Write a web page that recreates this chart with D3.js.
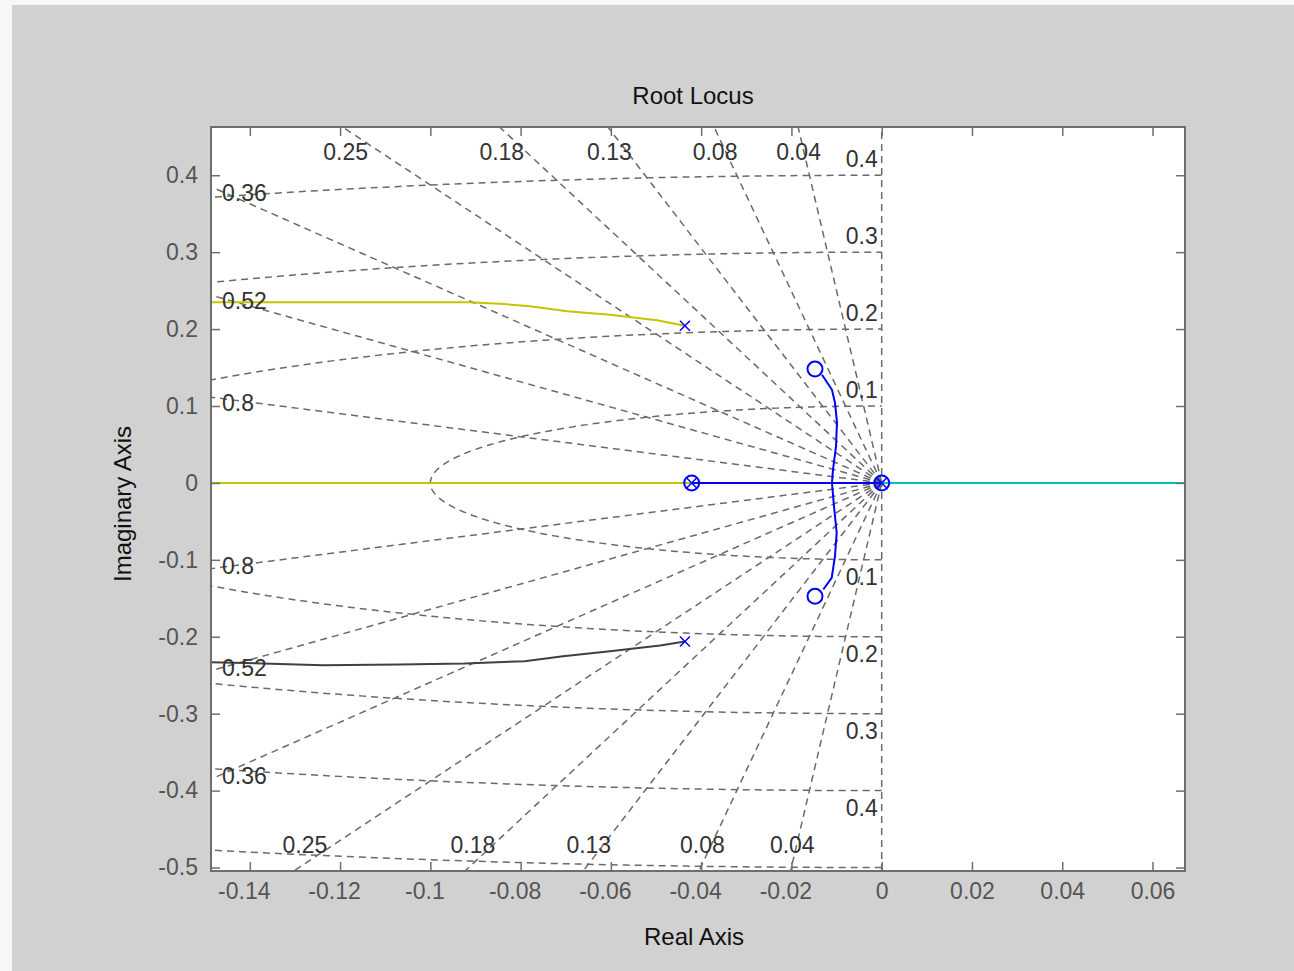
<!DOCTYPE html>
<html>
<head>
<meta charset="utf-8">
<script src="https://cdn.jsdelivr.net/npm/d3@7"></script>
<style>
  body { margin: 0; background: #f7f7f7; }
  text { font-family: "Liberation Sans", Arial, sans-serif; }
</style>
</head>
<body>
<div class="chart"></div>
<script>
// ---- values ----
var xTicks = [-0.14, -0.12, -0.1, -0.08, -0.06, -0.04, -0.02, 0, 0.02, 0.04, 0.06];
var yTicks = [-0.5, -0.4, -0.3, -0.2, -0.1, 0, 0.1, 0.2, 0.3, 0.4];
var xLimits = [-0.1486, 0.0672];
var yLimits = [-0.5045, 0.4627];

// sgrid values
var zetaVals = [0.04, 0.08, 0.13, 0.18, 0.25, 0.36, 0.52, 0.8];
var wnVals = [0.1, 0.2, 0.3, 0.4, 0.5];

// locus branches (real, imag)
var yellowRe = [-0.1486, -0.0917, -0.0846, -0.0779, -0.0697, -0.0602, -0.0498, -0.0436];
var yellowIm = [0.2348, 0.2348, 0.2329, 0.2296, 0.2231, 0.2186, 0.2114, 0.2043];
var darkRe = [-0.1486, -0.1238, -0.1068, -0.0924, -0.0791, -0.0706, -0.0602, -0.0491, -0.0436];
var darkIm = [-0.2330, -0.2369, -0.2360, -0.2347, -0.2317, -0.2252, -0.2187, -0.2113, -0.2061];
var blueUpRe = [-0.01323, -0.01102, -0.01035, -0.00991, -0.01013, -0.01079, -0.01102];
var blueUpIm = [0.1406, 0.1212, 0.1043, 0.0783, 0.0471, 0.0173, 0];
var blueLoRe = [-0.01294, -0.01108, -0.01035, -0.00997, -0.01057, -0.01102];
var blueLoIm = [-0.1386, -0.1234, -0.0953, -0.0649, -0.0304, 0];
// real axis segments
var yellowAxis = [-0.1486, -0.0421];
var blueAxis = [-0.0421, 0];
var cyanAxis = [0, 0.0672];

// poles and zeros
var polesRe = [-0.0436, -0.0436, -0.0421, 0];
var polesIm = [0.2043, -0.2061, 0, 0];
var zerosRe = [-0.01478, -0.01478, -0.0421, 0];
var zerosIm = [0.1481, -0.1473, 0, 0];

// ---- layout ----
var W = 1294, H = 971;
var box = { left: 211, right: 1185, top: 127, bottom: 871 };

var svg = d3.select('.chart')
  .append('svg')
  .attr('width', W)
  .attr('height', H);

// figure background
svg.append('rect')
  .attr('x', 12).attr('y', 5)
  .attr('width', W - 12).attr('height', H - 5)
  .style('fill', '#d1d1d1');

svg.append('rect')
  .attr('x', box.left).attr('y', box.top)
  .attr('width', box.right - box.left).attr('height', box.bottom - box.top)
  .style('fill', 'white');

var x = d3.scaleLinear().domain(xLimits).range([box.left, box.right]);
var y = d3.scaleLinear().domain(yLimits).range([box.bottom, box.top]);

svg.append('clipPath').attr('id', 'plotclip')
  .append('rect')
  .attr('x', box.left).attr('y', box.top)
  .attr('width', box.right - box.left).attr('height', box.bottom - box.top);

var plot = svg.append('g').attr('clip-path', 'url(#plotclip)');

var line = d3.line().x(d => x(d[0])).y(d => y(d[1]));
var zip = (re, im) => re.map((r, i) => [r, im[i]]);

///////////// sgrid /////////////
var gridStyle = sel => sel
  .style('fill', 'none')
  .style('stroke', '#6a6a6a')
  .style('stroke-width', 1.5)
  .style('stroke-dasharray', '7,5');

// damping lines
zetaVals.forEach(z => {
  var s = Math.sqrt(1 - z * z);
  [1, -1].forEach(sign => {
    plot.append('path')
      .attr('d', line([[0, 0], [-z * 2, sign * s * 2]]))
      .call(gridStyle);
  });
});
// imaginary axis
plot.append('path')
  .attr('d', line([[0, yLimits[0]], [0, yLimits[1]]]))
  .call(gridStyle);

// natural frequency circles (left half plane)
var angles = d3.range(-90, 90.5, 0.5).map(a => a * Math.PI / 180);
wnVals.forEach(wn => {
  plot.append('path')
    .attr('d', line(angles.map(t => [-wn * Math.cos(t), wn * Math.sin(t)])))
    .call(gridStyle);
});

// grid labels
var labels = svg.append('g')
  .style('font-size', '23px')
  .style('fill', '#333');

zetaVals.forEach(z => {
  var slope = Math.sqrt(1 - z * z) / z;
  var xTop = -yLimits[1] / slope;
  if (xTop >= xLimits[0]) {
    labels.append('text')
      .attr('x', x(-0.46 / slope)).attr('y', y(yLimits[1]) + 33)
      .attr('text-anchor', 'middle').text(z);
    labels.append('text')
      .attr('x', x(-0.495 / slope)).attr('y', y(yLimits[0]) - 18)
      .attr('text-anchor', 'middle').text(z);
  } else {
    var yy = -xLimits[0] * slope;
    labels.append('text')
      .attr('x', box.left + 11).attr('y', y(yy) + 14).text(z);
    labels.append('text')
      .attr('x', box.left + 11).attr('y', y(-yy) + 5).text(z);
  }
});

wnVals.forEach(wn => {
  if (y(wn) - 24 > box.top) {
    labels.append('text')
      .attr('x', x(0) - 4).attr('y', y(wn) - 8)
      .attr('text-anchor', 'end').text(wn);
  }
  if (y(-wn) + 25 < box.bottom) {
    labels.append('text')
      .attr('x', x(0) - 4).attr('y', y(-wn) + 25)
      .attr('text-anchor', 'end').text(wn);
  }
});

///////////// locus /////////////
var locus = (pts, color) => plot.append('path')
  .attr('d', line(pts))
  .style('fill', 'none')
  .style('stroke', color)
  .style('stroke-width', 2)
  .style('stroke-linejoin', 'round');

locus(yellowAxis.map(v => [v, 0]), '#c4c400');
locus(blueAxis.map(v => [v, 0]), '#0000ff');
locus(cyanAxis.map(v => [v, 0]), '#00bfbf');
locus(zip(yellowRe, yellowIm), '#c4c400');
locus(zip(darkRe, darkIm), '#404040');
locus(zip(blueUpRe, blueUpIm), '#0000ff');
locus(zip(blueLoRe, blueLoIm), '#0000ff');

// zeros
plot.selectAll('.zero')
  .data(zip(zerosRe, zerosIm))
  .enter()
  .append('circle')
  .attr('class', 'zero')
  .attr('cx', d => x(d[0]))
  .attr('cy', d => y(d[1]))
  .attr('r', 7.5)
  .style('fill', 'none')
  .style('stroke', '#0000ff')
  .style('stroke-width', 2);

// poles
plot.selectAll('.pole')
  .data(zip(polesRe, polesIm))
  .enter()
  .append('path')
  .attr('class', 'pole')
  .attr('d', d => {
    var cx = x(d[0]), cy = y(d[1]), r = 5;
    return 'M' + (cx - r) + ',' + (cy - r) + 'L' + (cx + r) + ',' + (cy + r) +
      'M' + (cx - r) + ',' + (cy + r) + 'L' + (cx + r) + ',' + (cy - r);
  })
  .style('stroke', '#0000ff')
  .style('stroke-width', 1.5);

///////////// axes /////////////
var tickLen = -9;
var fmt = d => String(d);

var gx = svg.append('g')
  .attr('transform', 'translate(0,' + box.bottom + ')')
  .call(d3.axisBottom(x).tickValues(xTicks).tickFormat(fmt).tickSize(tickLen).tickPadding(12));
gx.selectAll('text').attr('dx', d => d < 0 ? -6 : 0);

var gxTop = svg.append('g')
  .attr('transform', 'translate(0,' + box.top + ')')
  .call(d3.axisTop(x).tickValues(xTicks).tickFormat('').tickSize(tickLen));

var gy = svg.append('g')
  .attr('transform', 'translate(' + box.left + ',0)')
  .call(d3.axisLeft(y).tickValues(yTicks).tickFormat(fmt).tickSize(tickLen).tickPadding(13));

var gyRight = svg.append('g')
  .attr('transform', 'translate(' + box.right + ',0)')
  .call(d3.axisRight(y).tickValues(yTicks).tickFormat('').tickSize(tickLen));

[gx, gxTop, gy, gyRight].forEach(g => {
  g.select('.domain').remove();
  g.selectAll('line').style('stroke', '#6e6e6e').style('stroke-width', 1.5);
  g.selectAll('text')
    .style('font-family', '"Liberation Sans", Arial, sans-serif')
    .style('font-size', '23px')
    .style('fill', '#555');
});

svg.append('rect')
  .attr('x', box.left).attr('y', box.top)
  .attr('width', box.right - box.left).attr('height', box.bottom - box.top)
  .style('fill', 'none')
  .style('stroke', '#6e6e6e')
  .style('stroke-width', 2);

// titles
svg.append('text')
  .attr('x', (box.left + box.right) / 2 - 5).attr('y', 104)
  .attr('text-anchor', 'middle')
  .style('font-size', '24px')
  .style('fill', '#111')
  .text('Root Locus');

svg.append('text')
  .attr('x', (box.left + box.right) / 2 - 4).attr('y', 945)
  .attr('text-anchor', 'middle')
  .style('font-size', '24px')
  .style('fill', '#111')
  .text('Real Axis');

svg.append('text')
  .attr('transform', 'translate(131,' + ((box.top + box.bottom) / 2 + 5) + ') rotate(-90)')
  .attr('text-anchor', 'middle')
  .style('font-size', '24px')
  .style('fill', '#111')
  .text('Imaginary Axis');
</script>
</body>
</html>
